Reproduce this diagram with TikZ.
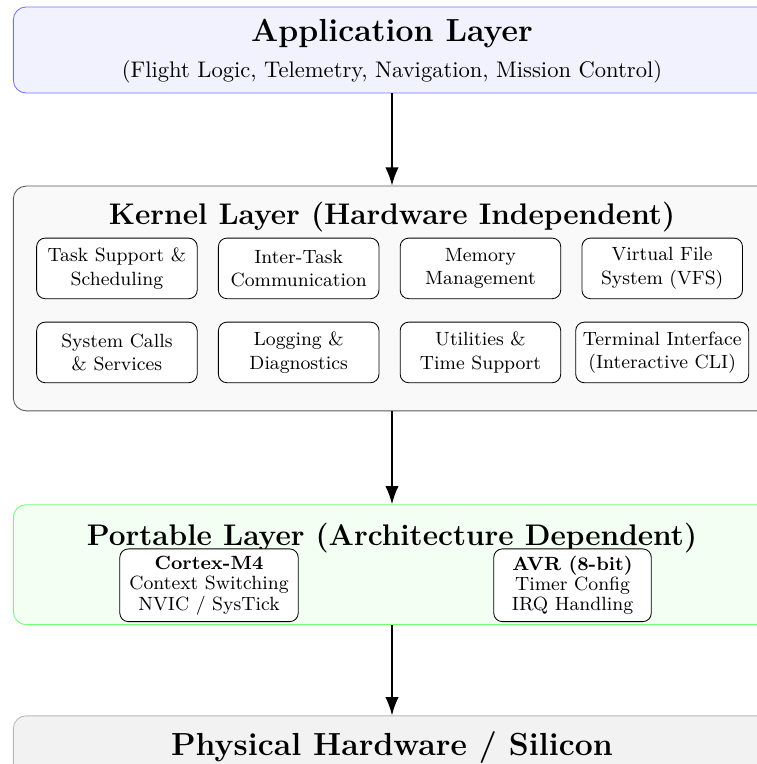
\documentclass[tikz,border=0pt]{standalone}
\usepackage{tikz}
\usetikzlibrary{arrows.meta,positioning,calc}
\tikzset{
  layer/.style={draw,rectangle,rounded corners=6pt,minimum width=12.5cm,thin},
  applayer/.style={layer,fill=blue!5,draw=blue!55,minimum height=1.42cm},
  krnlayer/.style={layer,fill=gray!5,draw=black!65,minimum height=3.71cm},
  prtlayer/.style={layer,fill=green!5,draw=green!55,minimum height=1.98cm},
  hwlayer/.style={layer,fill=gray!10,draw=gray!55,minimum height=1.5cm},
  modblk/.style={draw,rectangle,rounded corners=4pt,minimum width=2.65cm,minimum height=1.0cm,fill=white,align=center,font=\small},
  archblk/.style={draw,rectangle,rounded corners=4pt,minimum width=2.6cm,minimum height=1.2cm,fill=white,align=center,
    font={\fontsize{9}{9.6}\selectfont},inner xsep=4.5pt,inner ysep=2pt},
  ttl/.style={font=\fontsize{15}{18}\selectfont\bfseries},
  bttl/.style={font=\fontsize{14}{17}\selectfont\bfseries},
  arr/.style={-{Latex[length=3mm,width=2.2mm]},thick}
}
\begin{document}
\begin{tikzpicture}
  \useasboundingbox (-6.47,-12.61) rectangle (6.02,0);
  % Application Layer
  \node[applayer] (app) at (0,-0.825) {};
  \node[ttl] (appT) at (0,-0.56) {Application Layer};
  \node[font=\fontsize{10.6}{12.7}\selectfont] (appS) at (0,-1.18) {(Flight Logic, Telemetry, Navigation, Mission Control)};

  % Kernel Layer
  \node[krnlayer] (krn) at (0,-4.926) {};
  \node[bttl] (krnT) at (0,-3.58) {Kernel Layer (Hardware Independent)};
  \node[modblk] (task) at (-4.54,-4.43) {Task Support \&\\Scheduling};
  \node[modblk] (itc) at (-1.54,-4.43) {Inter-Task\\Communication};
  \node[modblk] (mem) at (1.46,-4.43) {Memory\\Management};
  \node[modblk] (vfs) at (4.46,-4.43) {Virtual File\\System (VFS)};
  \node[modblk] (sys) at (-4.54,-5.817) {System Calls\\\& Services};
  \node[modblk] (log) at (-1.54,-5.817) {Logging \&\\Diagnostics};
  \node[modblk] (utl) at (1.46,-5.817) {Utilities \&\\Time Support};
  \node[modblk] (cli) at (4.46,-5.817) {Terminal Interface\\(Interactive CLI)};

  % Portable Layer
  \node[prtlayer] (prt) at (0,-9.32) {};
  \node[bttl] (prtT) at (0,-8.88) {Portable Layer (Architecture Dependent)};
  \node[archblk] (cm4) at (-3.02,-9.66) {\textbf{Cortex-M4}\\Context Switching\\NVIC / SysTick};
  \node[archblk] (avr) at (2.98,-9.66) {\textbf{AVR (8-bit)}\\Timer Config\\IRQ Handling};

  % Hardware
  \node[hwlayer] (hw) at (0,-12.565) {};
  \node[ttl] (hwT) at (0,-12.33) {Physical Hardware / Silicon};

  % Connections
  \draw[arr] (app.south) -- (krn.north);
  \draw[arr] (krn.south) -- (prt.north);
  \draw[arr] (prt.south) -- (hw.north);
\end{tikzpicture}
\end{document}
